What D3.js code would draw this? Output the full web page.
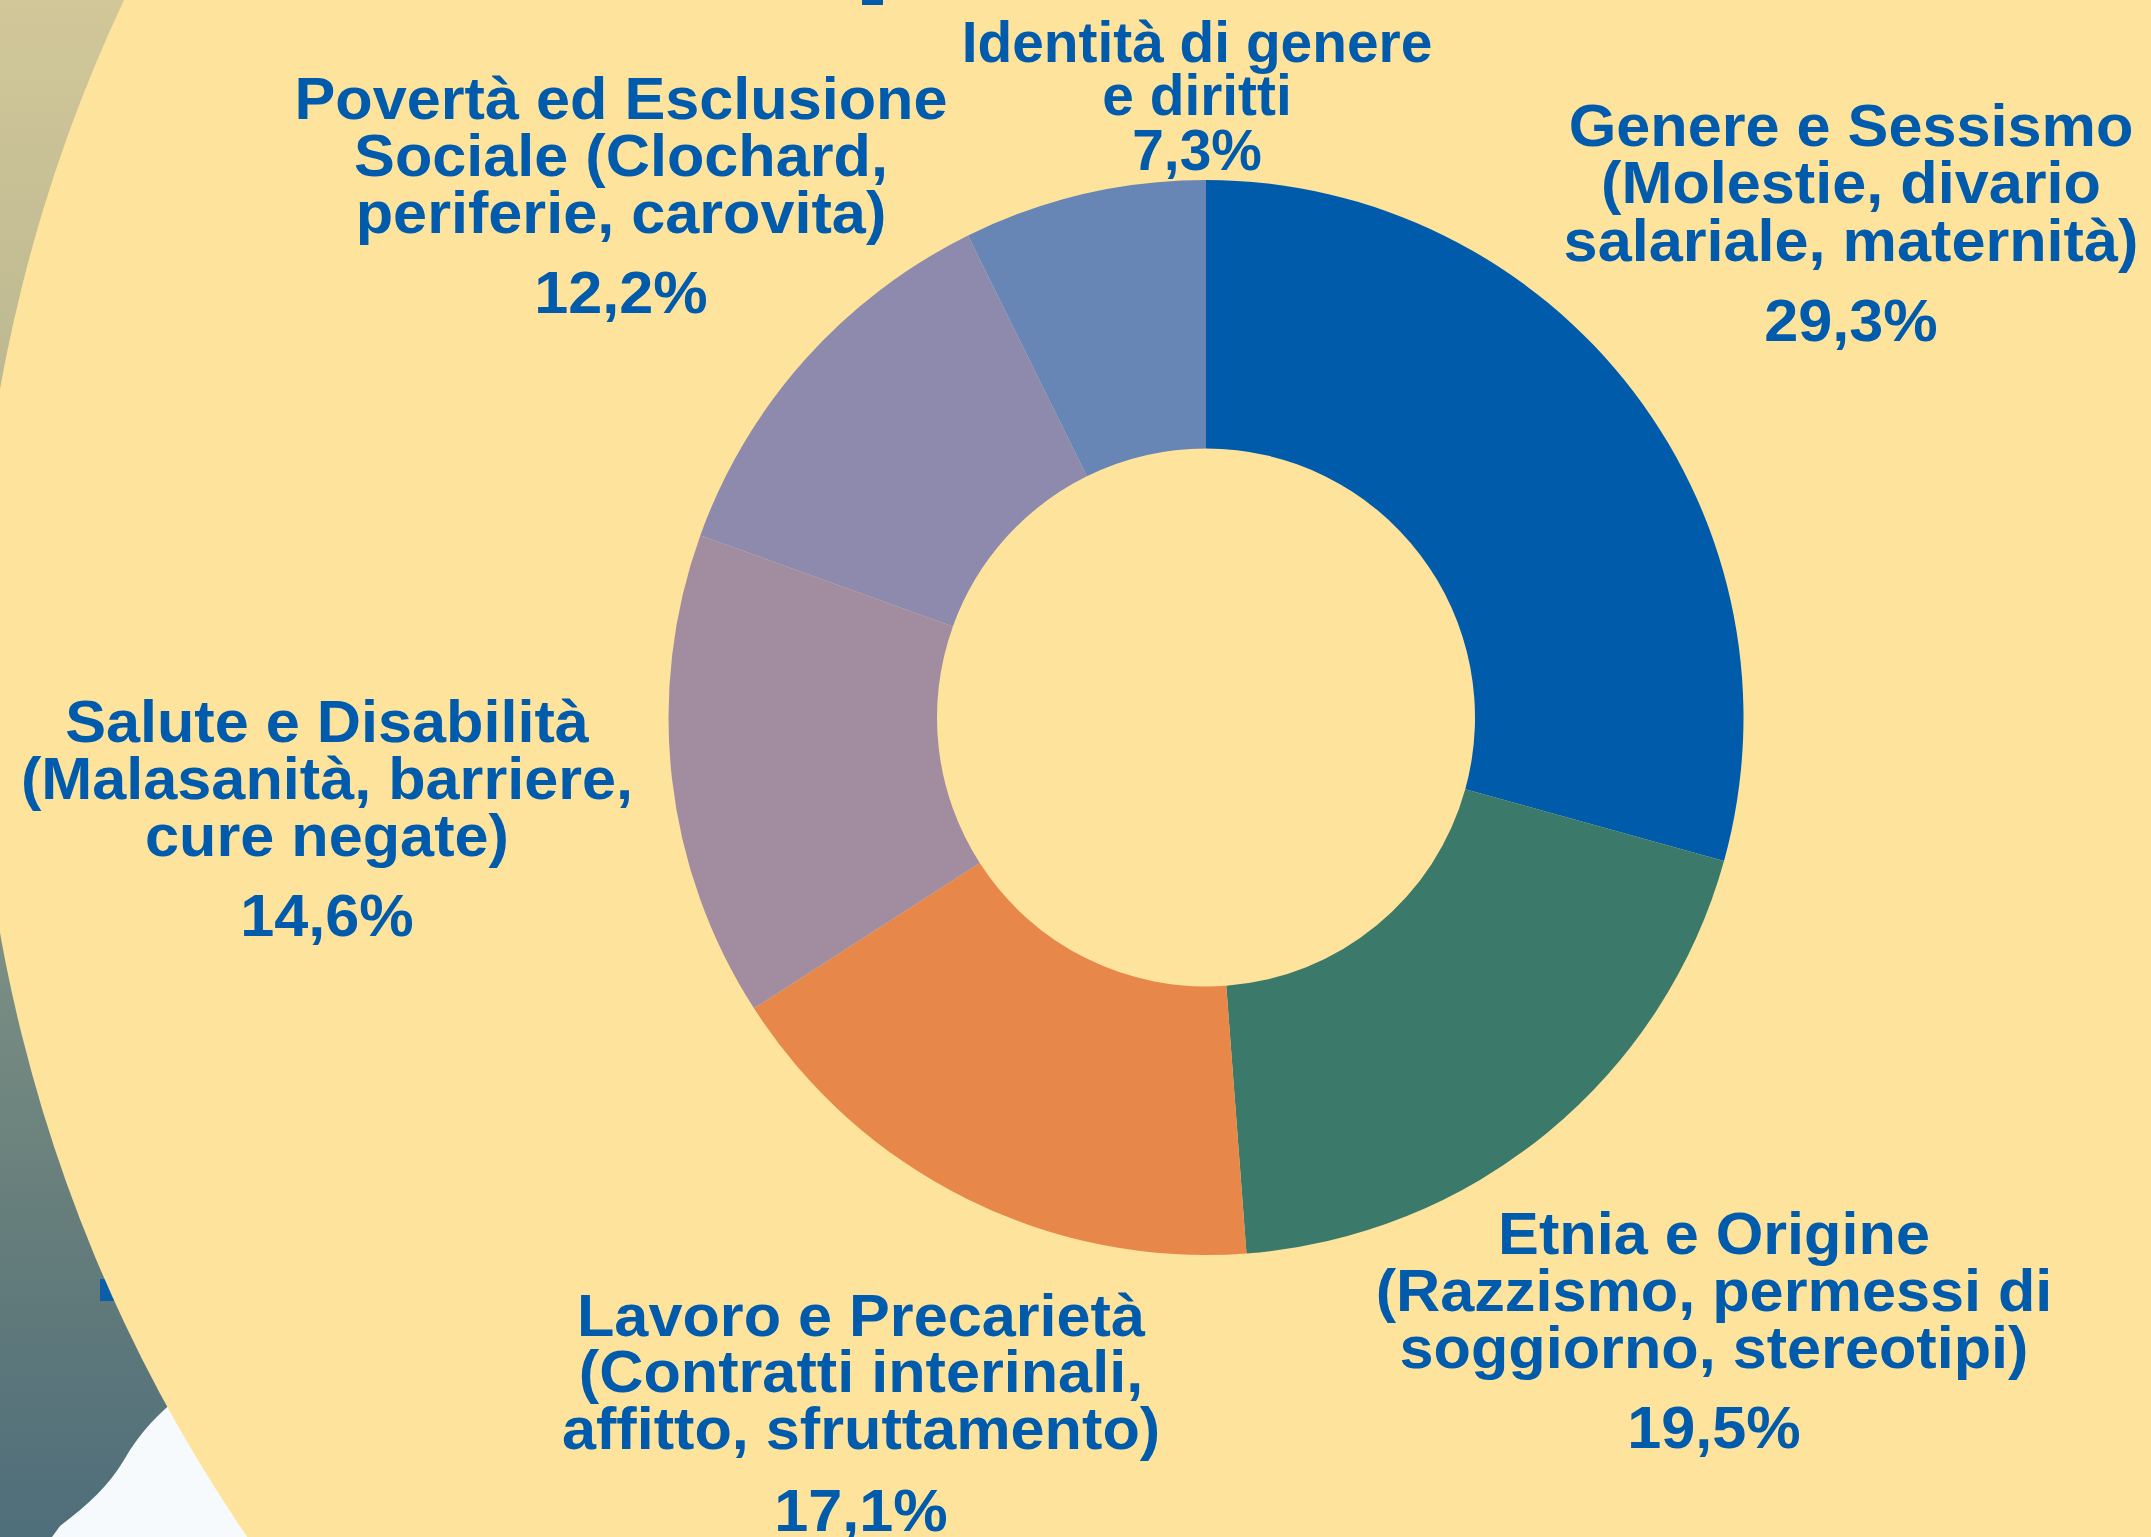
<!DOCTYPE html>
<html>
<head>
<meta charset="utf-8">
<script src="https://cdn.jsdelivr.net/npm/d3@7"></script>
<style>
html, body { margin: 0; padding: 0; background: #fee39c; overflow: hidden; }
.lbl { font-family: "Liberation Sans", Arial, sans-serif; font-weight: bold; fill: #005bac; }
</style>
</head>
<body>
<div id="chart"></div>
<script>
// data
var categories = [
  ["Genere e Sessismo", "(Molestie, divario", "salariale, maternità)"],
  ["Etnia e Origine", "(Razzismo, permessi di", "soggiorno, stereotipi)"],
  ["Lavoro e Precarietà", "(Contratti interinali,", "affitto, sfruttamento)"],
  ["Salute e Disabilità", "(Malasanità, barriere,", "cure negate)"],
  ["Povertà ed Esclusione", "Sociale (Clochard,", "periferie, carovita)"],
  ["Identità di genere", "e diritti"]
];
var values = [29.3, 19.5, 17.1, 14.6, 12.2, 7.3];
var colors = ["#005cab", "#3b7a6a", "#e8874a", "#a28da0", "#8e8aad", "#6886b5"];

// label placement (x centre, first baseline, line step, gap before %, font size, horizontal stretch)
var labelPos = [
  {x: 1851, y: 146, step: 57.5, gap: 80, fs: 60, sx: 1.02},
  {x: 1714, y: 1254, step: 57, gap: 80, fs: 60, sx: 1.02},
  {x: 861, y: 1336, step: 56.5, gap: 82, fs: 60, sx: 1.02},
  {x: 327, y: 742, step: 57, gap: 80, fs: 60, sx: 1.02},
  {x: 621, y: 119, step: 57, gap: 80, fs: 60, sx: 1.02},
  {x: 1197, y: 62, step: 53.5, gap: 55, fs: 58, sx: 0.98}
];

var width = 2151, height = 1537;
var cx = 1206, cy = 717.5, rOuter = 537.5, rInner = 269;

var svg = d3.select("#chart").append("svg")
  .attr("width", width).attr("height", height);

// background: gradient page on the left, white corner, big yellow disc
var defs = svg.append("defs");
var grad = defs.append("linearGradient").attr("id", "bg")
  .attr("x1", 0).attr("y1", 0).attr("x2", 0).attr("y2", 1);
[[0, "#d1c799"], [0.4, "#b2b08e"], [0.65, "#768b82"], [0.8, "#657d7b"], [1, "#4f6e7b"]]
  .forEach(function(s) { grad.append("stop").attr("offset", s[0]).attr("stop-color", s[1]); });

svg.append("rect").attr("width", width).attr("height", height).attr("fill", "url(#bg)");
svg.append("path")
  .attr("d", "M178,1398 C160,1412 140,1432 124,1460 C110,1484 88,1505 60,1526 L52,1537 L320,1537 L320,1398 Z")
  .attr("fill", "#f6fafd");
svg.append("rect").attr("x", 100).attr("y", 1279).attr("width", 16).attr("height", 22).attr("fill", "#0a5fa8");
svg.append("circle").attr("cx", 1526).attr("cy", 661).attr("r", 1550).attr("fill", "#fee39c");
svg.append("rect").attr("x", 862).attr("y", -10).attr("width", 21).attr("height", 15).attr("fill", "#005bac");

// donut
var pie = d3.pie().sort(null).value(function(d) { return d; });
var arc = d3.arc().innerRadius(rInner).outerRadius(rOuter);

var g = svg.append("g").attr("transform", "translate(" + cx + "," + cy + ")");
g.selectAll("path.slice")
  .data(pie(values))
  .enter().append("path")
  .attr("class", "slice")
  .attr("d", arc)
  .attr("fill", function(d, i) { return colors[i]; });

// labels
var it = d3.formatLocale({decimal: ",", thousands: ".", grouping: [3], currency: ["", "€"]});
var fmt = it.format(".1f");

categories.forEach(function(lines, i) {
  var p = labelPos[i];
  var lg = svg.append("g").attr("transform", "translate(" + p.x + ",0) scale(" + p.sx + ",1)");
  lines.forEach(function(t, j) {
    lg.append("text").attr("class", "lbl")
      .attr("x", 0).attr("y", p.y + j * p.step)
      .attr("text-anchor", "middle").attr("font-size", p.fs)
      .text(t);
  });
  lg.append("text").attr("class", "lbl")
    .attr("x", 0).attr("y", p.y + (lines.length - 1) * p.step + p.gap)
    .attr("text-anchor", "middle").attr("font-size", p.fs)
    .text(fmt(values[i]) + "%");
});
</script>
</body>
</html>
